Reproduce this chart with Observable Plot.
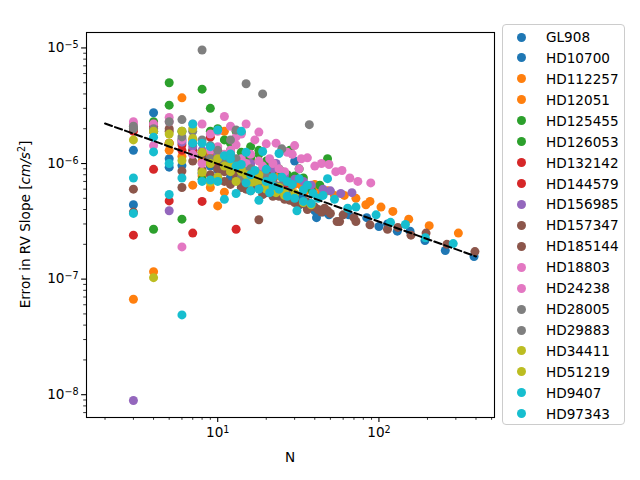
<!DOCTYPE html>
<html><head><meta charset="utf-8">
<script src="https://cdn.jsdelivr.net/npm/d3@7"></script>
<script src="https://cdn.jsdelivr.net/npm/@observablehq/plot@0.6"></script>
<style>
body{margin:0;background:#fff;font-family:"DejaVu Sans",sans-serif;}
#wrap{position:relative;width:640px;height:480px;overflow:hidden;}
#legend{position:absolute;left:502px;top:24px;width:123px;height:401px;border:1px solid #cccccc;border-radius:4px;box-sizing:border-box;background:#fff;}
.item{position:absolute;left:0;width:120px;height:20px;}
.item .dot{position:absolute;left:13.5px;top:5.5px;width:9px;height:9px;border-radius:50%;}
.item .lab{position:absolute;left:43px;top:0;line-height:20px;font-size:13.6px;color:#000;white-space:nowrap;}
</style>
</head><body>
<div id="wrap"><div id="chart"></div><div id="legend"></div></div>
<script>
const names = ["GL908","HD10700","HD112257","HD12051","HD125455","HD126053","HD132142","HD144579","HD156985","HD157347","HD185144","HD18803","HD24238","HD28005","HD29883","HD34411","HD51219","HD9407","HD97343"];
const colors = ["#1f77b4","#1f77b4","#ff7f0e","#ff7f0e","#2ca02c","#2ca02c","#d62728","#d62728","#9467bd","#8c564b","#8c564b","#e377c2","#e377c2","#7f7f7f","#7f7f7f","#bcbd22","#bcbd22","#17becf","#17becf"];

const n_GL908 = [3,4,5,6,7,8,9,10,11,12,13,14,15,16,17,18,19,20,22,24,26,28,30,33,36,40];
const e_GL908 = [1.3e-6,2.75e-6,9.3e-7,1.6e-6,1.2e-6,1.15e-6,9.5e-7,8.8e-7,1.0e-6,7.6e-7,9.2e-7,8.0e-7,1.0e-6,6.9e-7,7.8e-7,8.4e-7,6.2e-7,7.4e-7,5.9e-7,8.5e-7,6.8e-7,6.0e-7,1.05e-6,5.2e-7,4.6e-7,3.9e-7];

const n_HD10700 = [3,4,5,6,8,10,12,14,16,18,20,23,26,29,32,36,41,45,49,65,84,100,113,130,156,193,258,389];
const e_HD10700 = [4.4e-7,1.9e-6,1.1e-6,9.6e-7,8.2e-7,7.4e-7,7.1e-7,6.7e-7,6.0e-7,6.3e-7,5.6e-7,5.4e-7,5.0e-7,4.8e-7,4.4e-7,4.1e-7,3.4e-7,3.8e-7,3.6e-7,3.6e-7,3.4e-7,2.85e-7,3.0e-7,2.6e-7,2.6e-7,2.16e-7,1.77e-7,1.57e-7];

const n_HD112257 = [4,5,6,7,8,9,10,11,12,13,14,15,16,18,20,22,24,26,28,30,33,36,40,44,48,53,61,72,83,88,103,122,153,205,311];
const e_HD112257 = [2.0e-6,1.3e-6,1.15e-6,6.5e-7,1.05e-6,6.2e-7,1.3e-6,5.65e-7,1.1e-6,1.05e-6,9.5e-7,8.8e-7,9.2e-7,8.5e-7,8.0e-7,7.6e-7,7.8e-7,7.0e-7,7.3e-7,6.6e-7,6.5e-7,6.0e-7,6.2e-7,5.6e-7,5.8e-7,5.3e-7,5.3e-7,5.0e-7,4.4e-7,4.7e-7,4.2e-7,3.85e-7,3.3e-7,2.9e-7,2.5e-7];

const n_HD12051 = [3,4,5,6,7,8,9,10,11,12,14,16,18,20,25,30,35,40];
const e_HD12051 = [6.7e-8,1.16e-7,1.5e-6,3.7e-6,1.6e-6,7.8e-7,1.2e-6,4.3e-7,1.9e-6,1.05e-6,6.8e-7,1.1e-6,7.0e-7,9.5e-7,8.0e-7,7.0e-7,5.8e-7,6.6e-7];

const n_HD125455 = [4,5,6,8,9,10,11,12,13,14,15,16,18,20,22,25,28,32];
const e_HD125455 = [2.7e-7,5.0e-6,3.3e-7,4.4e-6,3.0e-6,1.2e-6,1.6e-6,1.3e-6,1.9e-6,1.85e-6,1.1e-6,1.4e-6,1.2e-6,9.5e-7,1.0e-6,8.5e-7,1.3e-6,9.0e-7];

const n_HD126053 = [3,4,5,6,7,8,9,10,12,14,16,18,20,22,24,27,30,34,38,43,48];
const e_HD126053 = [2.0e-6,2.3e-6,3.2e-6,1.9e-6,1.3e-6,7.3e-7,1.9e-6,2.0e-6,1.5e-6,1.25e-6,1.1e-6,1.3e-6,1.05e-6,8.8e-7,9.0e-7,8.0e-7,7.8e-7,7.5e-7,6.0e-7,6.5e-7,1.1e-6];

const n_HD132142 = [3,4,5,6,7,8,9,10,11,12,13,14,16,18,20,22,25,28];
const e_HD132142 = [2.4e-7,8.9e-7,4.75e-7,1.3e-6,2.5e-7,4.7e-7,1.69e-6,1.1e-6,9.0e-7,1.2e-6,2.7e-7,8.5e-7,1.0e-6,7.5e-7,8.0e-7,7.0e-7,6.5e-7,6.0e-7];

const n_HD144579 = [3,4,5,6,7,8,9,10,11,12,13,14,15,17,19,21,24,27,30];
const e_HD144579 = [1.9e-6,2.1e-6,1.5e-6,1.45e-6,1.3e-6,1.25e-6,1.1e-6,1.0e-6,1.15e-6,9.0e-7,1.05e-6,7.5e-7,8.8e-7,6.8e-7,7.5e-7,6.2e-7,5.8e-7,5.6e-7,5.0e-7];

const n_HD156985 = [3,5,6,7,8,10,12,14,16,19,22,23,26,30,34,38,45,50,58,68];
const e_HD156985 = [8.9e-9,3.9e-7,1.53e-6,1.4e-6,1.3e-6,1.2e-6,1.1e-6,9.5e-7,1.0e-6,8.6e-7,9.0e-7,1.0e-6,8.0e-7,7.3e-7,7.0e-7,6.5e-7,6.0e-7,5.8e-7,5.5e-7,5.6e-7];

const n_HD157347 = [3,4,5,6,7,8,9,10,11,12,13,14,15,16,17,18,19,20,22,24,26,28,30,33,36,40,44,48,55,57,72,88,113,131,158,196,264,394];
const e_HD157347 = [6.0e-7,2.2e-6,1.9e-6,8.6e-7,1.05e-6,8.8e-7,8.0e-7,7.5e-7,7.0e-7,6.6e-7,7.2e-7,6.2e-7,6.0e-7,5.8e-7,6.3e-7,3.26e-7,5.4e-7,5.8e-7,5.2e-7,5.5e-7,4.9e-7,5.1e-7,4.6e-7,4.5e-7,4.0e-7,4.2e-7,3.8e-7,3.9e-7,3.15e-7,3.15e-7,3.15e-7,2.95e-7,2.7e-7,2.8e-7,2.4e-7,2.5e-7,2.0e-7,1.73e-7];

const n_HD185144 = [3,4,5,6,7,8,9,10,11,12,13,14,15,16,18,20,22,24,26,28,30,32,35,38,42,46,50,60,70];
const e_HD185144 = [3.8e-7,1.9e-6,2.0e-6,6.2e-7,1.5e-6,1.2e-6,1.0e-6,9.0e-7,8.5e-7,9.5e-7,8.0e-7,7.0e-7,7.5e-7,6.6e-7,6.2e-7,6.5e-7,5.7e-7,5.2e-7,5.4e-7,4.8e-7,5.3e-7,4.4e-7,4.7e-7,4.3e-7,4.0e-7,4.1e-7,3.7e-7,3.6e-7,3.4e-7];

const n_HD18803 = [3,4,5,6,7,8,9,10,11,12,13,14,15,17,18,20,23,25,27,30,33,36,40,44,49,54,59,66,74,89];
const e_HD18803 = [2.3e-6,2.2e-6,2.5e-6,1.6e-6,2.2e-6,2.2e-6,1.8e-6,1.9e-6,2.55e-6,2.1e-6,1.7e-6,1.8e-6,2.2e-6,1.6e-6,1.87e-6,1.48e-6,1.5e-6,1.3e-6,1.25e-6,1.43e-6,1.1e-6,1.12e-6,9.5e-7,1.0e-6,9.8e-7,8.5e-7,8.7e-7,7.5e-7,7.0e-7,6.8e-7];

const n_HD24238 = [3,4,5,6,7,8,9,10,11,12,13,14,15,16,18,19,21,22,24,26,29,32];
const e_HD24238 = [2.2e-6,1.43e-6,2.3e-6,1.9e-7,1.2e-6,1.0e-6,1.3e-6,1.4e-6,1.2e-6,1.3e-6,1.45e-6,1.1e-6,1.0e-6,1.2e-6,1.05e-6,9.5e-7,1.1e-6,1.0e-6,9.0e-7,8.5e-7,1.2e-6,9.0e-7];

const n_HD28005 = [3,4,6,8,9,12,13,15,19,25,37];
const e_HD28005 = [2.1e-6,2.0e-6,2.4e-6,9.6e-6,1.43e-6,1.6e-6,1.95e-6,4.9e-6,4.0e-6,1.34e-6,2.17e-6];

const n_HD29883 = [3,4,5,6,7,8,9,10,11,12,13,14,15,16,18,20,22,24,26,28];
const e_HD29883 = [2.0e-6,1.9e-6,2.3e-6,1.7e-6,1.9e-6,1.6e-6,1.1e-6,1.3e-6,1.0e-6,9.0e-7,1.1e-6,7.5e-7,8.5e-7,9.0e-7,6.5e-7,7.8e-7,6.8e-7,6.4e-7,7.0e-7,5.8e-7];

const n_HD34411 = [3,4,5,6,7,8,9,10,11,12,13,14,15,16,17,18,20,22,24,26];
const e_HD34411 = [1.6e-6,1.03e-7,1.8e-6,1.06e-6,2.0e-6,8.4e-7,1.0e-6,7.6e-7,9.5e-7,8.5e-7,7.0e-7,9.0e-7,8.0e-7,7.6e-7,7.0e-7,7.2e-7,6.5e-7,6.0e-7,6.2e-7,5.6e-7];

const n_HD51219 = [4,5,6,7,8,9,10,12,14,16,18,20,23,26,30,34,38];
const e_HD51219 = [1.9e-6,1.5e-6,1.9e-6,1.65e-6,1.25e-6,6.9e-7,1.1e-6,9.6e-7,8.5e-7,6.8e-7,8.0e-7,6.0e-7,5.6e-7,5.3e-7,5.5e-7,4.6e-7,4.4e-7];

const n_HD9407 = [3,4,5,6,7,8,9,10,11,12,13,14,15,16,17,18,19,20,21,22,24,25,27,29,31,32,34,36,39,42,45,48,53,64,72,96,118,146,194,289];
const e_HD9407 = [7.5e-7,1.26e-6,1.0e-6,7.5e-7,1.5e-6,1.5e-6,7.2e-7,1.95e-6,1.17e-6,1.21e-6,5.5e-7,9.8e-7,1.25e-6,5.8e-7,8.7e-7,4.8e-7,1.27e-6,8.9e-7,5.6e-7,7.6e-7,1.22e-6,7.6e-7,7.0e-7,6.6e-7,3.9e-7,7.4e-7,5.9e-7,6.5e-7,5.5e-7,5.0e-7,5.3e-7,7.4e-7,4.9e-7,4.1e-7,4.2e-7,3.6e-7,3.1e-7,2.97e-7,2.28e-7,2.03e-7];

const n_HD97343 = [3,4,5,6,7,8,9,10,11,12,13,14,15,16,18,20,22,24,27,30,34,38];
const e_HD97343 = [3.7e-7,1.69e-6,5.4e-7,4.9e-8,2.2e-6,7.0e-7,1.4e-6,7.0e-7,4.9e-7,1.1e-6,9.5e-7,1.9e-6,6.8e-7,8.0e-7,6.0e-7,7.0e-7,6.4e-7,6.0e-7,5.2e-7,5.0e-7,4.7e-7,4.5e-7];

const fitN = [2, 400];
const fitErr = [2.22e-6, 1.57e-7];

const xMajor = [10, 100];
const xMajorExp = ["1", "2"];
const xMinor = [2,3,4,5,6,7,8,9,20,30,40,50,60,70,80,90,200,300,400,500];
const yMajor = [1e-8, 1e-7, 1e-6, 1e-5];
const yMajorExp = ["\u22128","\u22127","\u22126","\u22125"];
const yMinor = [7e-9,8e-9,9e-9,2e-8,3e-8,4e-8,5e-8,6e-8,7e-8,8e-8,9e-8,2e-7,3e-7,4e-7,5e-7,6e-7,7e-7,8e-7,9e-7,2e-6,3e-6,4e-6,5e-6,6e-6,7e-6,8e-6,9e-6];

const seriesN = [n_GL908,n_HD10700,n_HD112257,n_HD12051,n_HD125455,n_HD126053,n_HD132142,n_HD144579,n_HD156985,n_HD157347,n_HD185144,n_HD18803,n_HD24238,n_HD28005,n_HD29883,n_HD34411,n_HD51219,n_HD9407,n_HD97343];
const seriesE = [e_GL908,e_HD10700,e_HD112257,e_HD12051,e_HD125455,e_HD126053,e_HD132142,e_HD144579,e_HD156985,e_HD157347,e_HD185144,e_HD18803,e_HD24238,e_HD28005,e_HD29883,e_HD34411,e_HD51219,e_HD9407,e_HD97343];

const points = [];
names.forEach((s, i) => seriesN[i].forEach((n, j) => points.push({series: s, n, err: seriesE[i][j]})));
const fit = fitN.map((n, i) => ({n, err: fitErr[i]}));

const chart = Plot.plot({
  width: 640, height: 480,
  marginLeft: 86, marginRight: 146, marginTop: 32, marginBottom: 63,
  style: {fontFamily: "DejaVu Sans", fontSize: "13.6px", color: "black", background: "white", overflow: "visible"},
  x: {type: "log", domain: [1.535, 521]},
  y: {type: "log", domain: [6.35e-9, 1.36e-5]},
  color: {domain: names, range: colors},
  marks: [
    Plot.axisX({ticks: xMajor, tickFormat: d => "SUPX" + xMajor.indexOf(d), tickSize: 4.9, tickPadding: 5, label: null, strokeWidth: 1.1}),
    Plot.axisX({ticks: xMinor, tickFormat: () => "", tickSize: 2.8, label: null, strokeWidth: 0.8}),
    Plot.axisY({ticks: yMajor, tickFormat: d => "SUPY" + yMajor.findIndex(v => Math.abs(v - d) / v < 1e-6), tickSize: 4.9, tickPadding: 3, label: null, strokeWidth: 1.1}),
    Plot.axisY({ticks: yMinor, tickFormat: () => "", tickSize: 2.8, label: null, strokeWidth: 0.8}),
    Plot.dot(points, {x: "n", y: "err", fill: "series", r: 4.5, stroke: null}),
    Plot.line(fit, {x: "n", y: "err", stroke: "black", strokeWidth: 2, strokeDasharray: "7.4,3.2"}),
    Plot.frame({stroke: "black", strokeWidth: 1.1})
  ]
});
document.getElementById("chart").appendChild(chart);

const svg = d3.select(chart);
// turn tick labels into 10 + superscript exponent
svg.selectAll("text").each(function() {
  const t = this.textContent;
  let exp = null;
  if (t.startsWith("SUPX")) exp = xMajorExp[+t.slice(4)];
  else if (t.startsWith("SUPY")) exp = yMajorExp[+t.slice(4)];
  if (exp === null) return;
  const el = d3.select(this);
  el.text(null);
  el.append("tspan").text("10");
  el.append("tspan").attr("dy", "-0.45em").attr("font-size", "9.6px").text(exp);
});

svg.append("text").attr("x", 290).attr("y", 462).attr("text-anchor", "middle")
  .attr("font-family", "DejaVu Sans").attr("font-size", "13.6px").attr("fill", "black").text("N");
const yl = svg.append("text").attr("transform", "translate(30,224.5) rotate(-90)").attr("text-anchor", "middle")
  .attr("font-family", "DejaVu Sans").attr("font-size", "13.6px").attr("fill", "black");
yl.append("tspan").text("Error in RV Slope [");
yl.append("tspan").attr("font-style", "italic").text("cm/s");
yl.append("tspan").attr("dy", -5).attr("font-size", "9.6px").text("2");
yl.append("tspan").attr("dy", 5).text("]");

const legend = document.getElementById("legend");
names.forEach((s, i) => {
  const item = document.createElement("div");
  item.className = "item";
  item.style.top = (2 + i * 20.93) + "px";
  item.innerHTML = `<span class="dot" style="background:${colors[i]}"></span><span class="lab">${s}</span>`;
  legend.appendChild(item);
});
</script>
</body></html>
